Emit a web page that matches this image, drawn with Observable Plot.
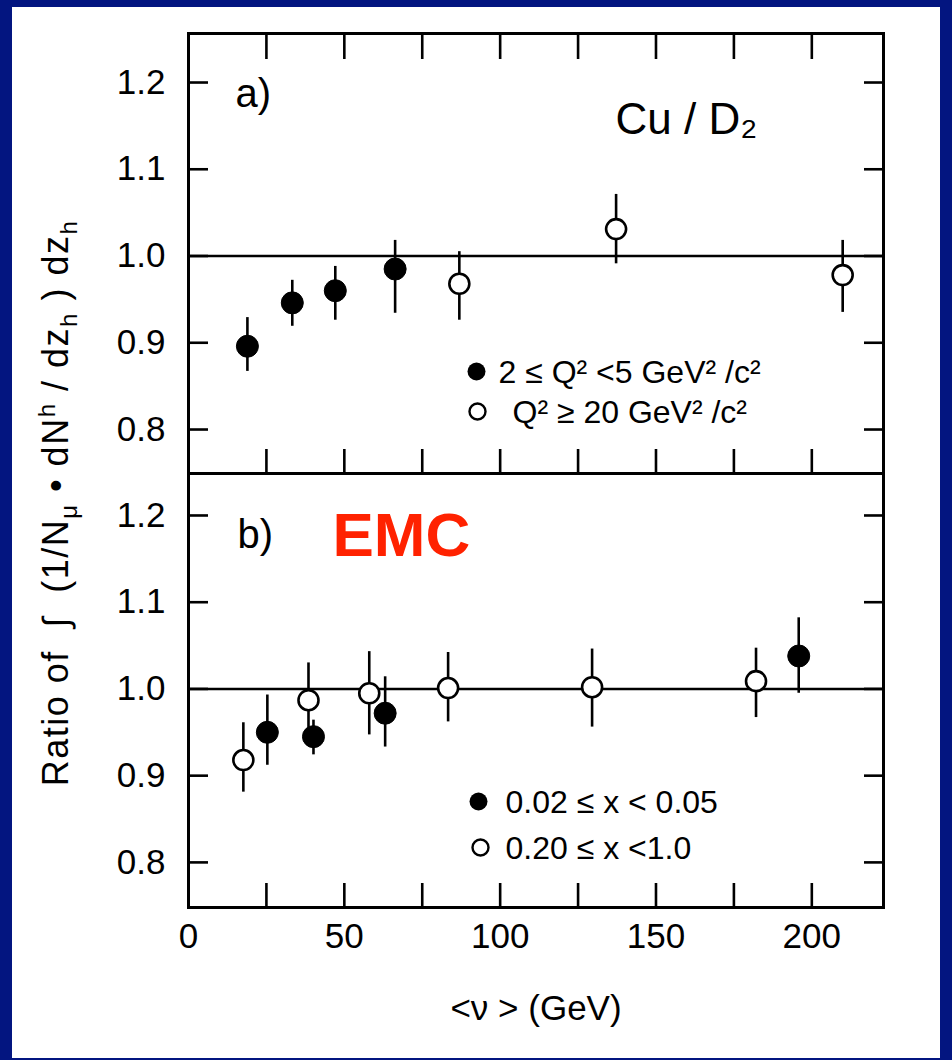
<!DOCTYPE html>
<html>
<head>
<meta charset="utf-8">
<script src="https://cdn.jsdelivr.net/npm/d3@7"></script>
<script src="https://cdn.jsdelivr.net/npm/@observablehq/plot@0.6"></script>
<style>
  html, body { margin: 0; padding: 0; background: #031580; }
  #stage { position: relative; width: 952px; height: 1060px; overflow: hidden; background: #031580; }
  #paper { position: absolute; left: 12px; top: 7px; width: 928px; height: 1051px; background: #ffffff; }
  .panel { position: absolute; left: 0; }
  #ylab { position: absolute; left: 58px; top: 503px; transform: translate(-50%, -50%) rotate(-90deg);
          white-space: nowrap; font-family: "Liberation Sans", Arial, sans-serif; font-size: 36px;
          letter-spacing: 1.5px; color: #000; }
  #ylab sub, #ylab sup { font-size: 24px; }
</style>
</head>
<body>
<div id="stage">
  <div id="paper"></div>
  <div id="panelA" class="panel" style="top:0px"></div>
  <div id="panelB" class="panel" style="top:473px"></div>
  <div id="ylab">Ratio of &nbsp;∫ &nbsp;(1/N<sub>μ</sub> • dN<sup>h</sup> / dz<sub>h</sub> ) dz<sub>h</sub></div>
</div>
<script>
// ---- axis ticks ----
const xTicks = [0, 25, 50, 75, 100, 125, 150, 175, 200];
const xTickLabels = [0, 50, 100, 150, 200];
const yTicks = [0.8, 0.9, 1.0, 1.1, 1.2];

// ---- panel a) Cu / D2 ----
const aFilledX  = [18.9, 33.3, 47.1, 66.3];
const aFilledY  = [0.896, 0.946, 0.960, 0.985];
const aFilledLo = [0.867, 0.919, 0.926, 0.934];
const aFilledHi = [0.929, 0.972, 0.988, 1.018];

const aOpenX  = [86.9, 137.2, 209.9];
const aOpenY  = [0.968, 1.031, 0.978];
const aOpenLo = [0.926, 0.991, 0.935];
const aOpenHi = [1.005, 1.071, 1.018];

const aLegend = ["2 ≤ Q² <5 GeV² /c²", "Q² ≥ 20 GeV² /c²"];

// ---- panel b) ----
const bFilledX  = [25.3, 40.1, 63.1, 195.8];
const bFilledY  = [0.950, 0.945, 0.972, 1.038];
const bFilledLo = [0.912, 0.924, 0.933, 0.995];
const bFilledHi = [0.993, 0.964, 1.014, 1.082];

const bOpenX  = [17.6, 38.5, 58.0, 83.3, 129.5, 182.1];
const bOpenY  = [0.918, 0.987, 0.995, 1.001, 1.002, 1.009];
const bOpenLo = [0.881, 0.955, 0.947, 0.962, 0.956, 0.967];
const bOpenHi = [0.961, 1.030, 1.043, 1.042, 1.046, 1.047];

const bLegend = ["0.02 ≤ x < 0.05", "0.20 ≤ x <1.0"];

const xLabel = "<ν > (GeV)";
const FONT = "'Liberation Sans', Arial, Helvetica, sans-serif";

const rows = (xs, ys, lo, hi) => xs.map((x, i) => ({x, y: ys[i], lo: lo[i], hi: hi[i]}));
const aFilled = rows(aFilledX, aFilledY, aFilledLo, aFilledHi);
const aOpen   = rows(aOpenX, aOpenY, aOpenLo, aOpenHi);
const bFilled = rows(bFilledX, bFilledY, bFilledLo, bFilledHi);
const bOpen   = rows(bOpenX, bOpenY, bOpenLo, bOpenHi);

const SW = 2.6;

function seriesMarks(filled, open) {
  return [
    Plot.ruleX(filled, {x: "x", y1: "lo", y2: "hi", stroke: "black", strokeWidth: SW}),
    Plot.ruleX(open, {x: "x", y1: "lo", y2: "hi", stroke: "black", strokeWidth: SW}),
    Plot.dot(filled, {x: "x", y: "y", r: 11, fill: "black", stroke: "black", strokeWidth: 1}),
    Plot.dot(open, {x: "x", y: "y", r: 10, fill: "white", stroke: "black", strokeWidth: SW})
  ];
}

function tickMarks(top, bottom) {
  const m = [
    Plot.axisY({ticks: yTicks, anchor: "left", tickSize: -20, strokeWidth: SW, text: null, label: null}),
    Plot.axisY({ticks: yTicks, anchor: "right", tickSize: -20, strokeWidth: SW, text: null, label: null}),
    Plot.axisY({ticks: yTicks, anchor: "left", tickSize: 0, tickPadding: 23, tickFormat: d3.format(".1f"),
                fontSize: 35, label: null})
  ];
  if (top) m.push(Plot.axisX({ticks: xTicks, anchor: "top", tickSize: -25, strokeWidth: SW, text: null, label: null}));
  if (bottom) m.push(Plot.axisX({ticks: xTicks, anchor: "bottom", tickSize: -24, strokeWidth: SW, text: null, label: null}));
  return m;
}

// Panel a
const plotA = Plot.plot({
  width: 952, height: 473,
  marginTop: 33, marginBottom: 0, marginLeft: 188, marginRight: 69,
  style: {background: "transparent", fontFamily: FONT, overflow: "visible", color: "black"},
  x: {domain: [0, 223]},
  y: {domain: [0.7493, 1.2565]},
  marks: [
    Plot.ruleY([1], {stroke: "black", strokeWidth: SW}),
    ...tickMarks(true, true),
    ...seriesMarks(aFilled, aOpen),
    Plot.text(["a)"], {frameAnchor: "top-left", dx: 47, dy: 61, fontSize: 40, textAnchor: "start", lineAnchor: "middle"}),
    Plot.text(["Cu / D₂"], {frameAnchor: "top-left", dx: 427, dy: 86, fontSize: 44, textAnchor: "start", lineAnchor: "middle"}),
    Plot.dot([aLegend[0]], {frameAnchor: "top-left", dx: 288, dy: 338, r: 9, fill: "black"}),
    Plot.dot([aLegend[1]], {frameAnchor: "top-left", dx: 289, dy: 378, r: 8, fill: "white", stroke: "black", strokeWidth: 2.4}),
    Plot.text([aLegend[0]], {frameAnchor: "top-left", dx: 310, dy: 339, fontSize: 32, textAnchor: "start", lineAnchor: "middle"}),
    Plot.text([aLegend[1]], {frameAnchor: "top-left", dx: 324, dy: 379, fontSize: 32, textAnchor: "start", lineAnchor: "middle"}),
    Plot.frame({stroke: "black", strokeWidth: 3})
  ]
});
document.getElementById("panelA").append(plotA);

// Panel b
const plotB = Plot.plot({
  width: 952, height: 587,
  marginTop: 0, marginBottom: 153, marginLeft: 188, marginRight: 69,
  style: {background: "transparent", fontFamily: FONT, overflow: "visible", color: "black"},
  x: {domain: [0, 223]},
  y: {domain: [0.748, 1.2484]},
  marks: [
    Plot.ruleY([1], {stroke: "black", strokeWidth: SW}),
    ...tickMarks(false, true),
    Plot.axisX({ticks: xTickLabels, anchor: "bottom", tickSize: 0, tickPadding: 16, fontSize: 35,
                label: xLabel, labelAnchor: "center", labelArrow: "none", labelOffset: 112}),
    ...seriesMarks(bFilled, bOpen),
    Plot.text(["b)"], {frameAnchor: "top-left", dx: 49, dy: 62, fontSize: 40, textAnchor: "start", lineAnchor: "middle"}),
    Plot.text(["EMC"], {frameAnchor: "top-left", dx: 144, dy: 63, fontSize: 62, fontWeight: "bold", fill: "#ff2200", textAnchor: "start", lineAnchor: "middle"}),
    Plot.dot([bLegend[0]], {frameAnchor: "top-left", dx: 290, dy: 328, r: 9, fill: "black"}),
    Plot.dot([bLegend[1]], {frameAnchor: "top-left", dx: 292, dy: 374, r: 8, fill: "white", stroke: "black", strokeWidth: 2.4}),
    Plot.text([bLegend[0]], {frameAnchor: "top-left", dx: 317, dy: 329, fontSize: 32, textAnchor: "start", lineAnchor: "middle"}),
    Plot.text([bLegend[1]], {frameAnchor: "top-left", dx: 317, dy: 375, fontSize: 32, textAnchor: "start", lineAnchor: "middle"}),
    Plot.frame({stroke: "black", strokeWidth: 3})
  ]
});
document.getElementById("panelB").append(plotB);
</script>
</body>
</html>
